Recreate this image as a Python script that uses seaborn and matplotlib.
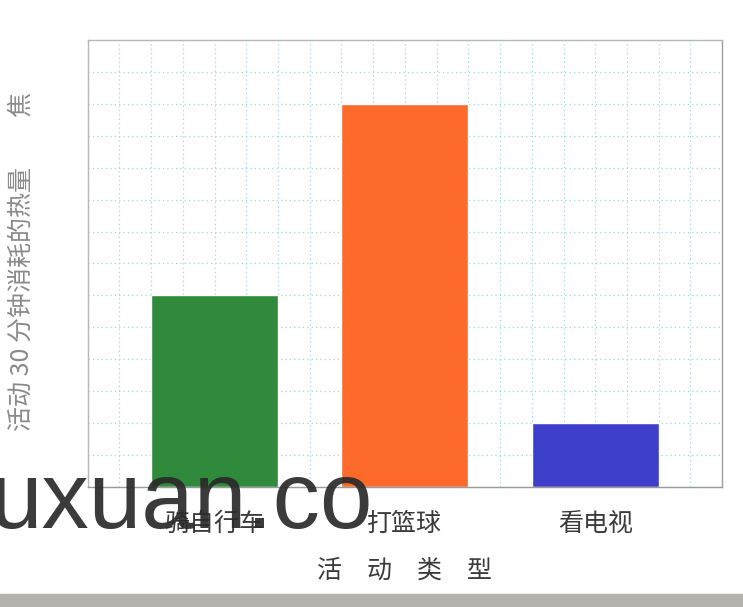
import matplotlib
matplotlib.use('Agg')
import matplotlib.pyplot as plt
import seaborn as sns
import pandas as pd
from matplotlib.patches import Rectangle

# 数据
activities = ['骑自行车', '打篮球', '看电视']
heat = [6, 12, 2]
bar_colors = ['#2f8a3b', '#fd6a2a', '#3d3fcb']

df = pd.DataFrame({'活动': activities, '热量': heat})

sns.set_style('white')
plt.rcParams['font.family'] = ['Noto Sans CJK SC', 'DejaVu Sans']

fig = plt.figure(figsize=(7.43, 6.07), dpi=100)
ax = fig.add_axes([0.118, 0.198, 0.854, 0.736])

sns.barplot(data=df, x='活动', y='热量', hue='活动', palette=bar_colors,
            legend=False, width=0.667, saturation=1, ax=ax)

# 坐标范围与网格
ax.set_xlim(-0.667, 2.667)
ax.set_ylim(0, 14)
ax.set_xticks([i / 6 - 4 / 6 for i in range(21)], minor=True)
ax.set_yticks(range(15))
ax.grid(which='both', color='#9fd6e3', linestyle=(0, (1, 2.5)), linewidth=0.9)
ax.set_axisbelow(True)
ax.tick_params(axis='y', which='both', left=False, labelleft=False)
ax.tick_params(axis='x', which='both', bottom=False, pad=14)
for lbl in ax.get_xticklabels():
    lbl.set_fontsize(18)
    lbl.set_color('#3a3a3a')

for side, sp in ax.spines.items():
    sp.set_color('#b8b8b8')
    sp.set_linewidth(1.0)
ax.spines['bottom'].set_color('#9a9a9a')
ax.spines['right'].set_color('#a0a0a0')

ax.set_xlabel('活　动　类　型', fontsize=18, color='#3a3a3a', labelpad=15)
ax.set_ylabel('')
fig.text(22 / 743, 1 - 92 / 607, '活动 30 分钟消耗的热量　　焦', rotation=90,
         ha='center', va='top', fontsize=18, color='#8a8a8a')

# 页面底部灰边与水印
fig.patches.append(Rectangle((0, 0), 1, 0.022, transform=fig.transFigure,
                             color='#b5b1ac', zorder=0))
fig.text(373 / 743, 1 - 528 / 607, 'uxuan.co', ha='right', va='baseline',
         fontsize=68, family='Liberation Sans', color='#2a2a2a', alpha=0.92)

plt.savefig('out.png', dpi=100)
